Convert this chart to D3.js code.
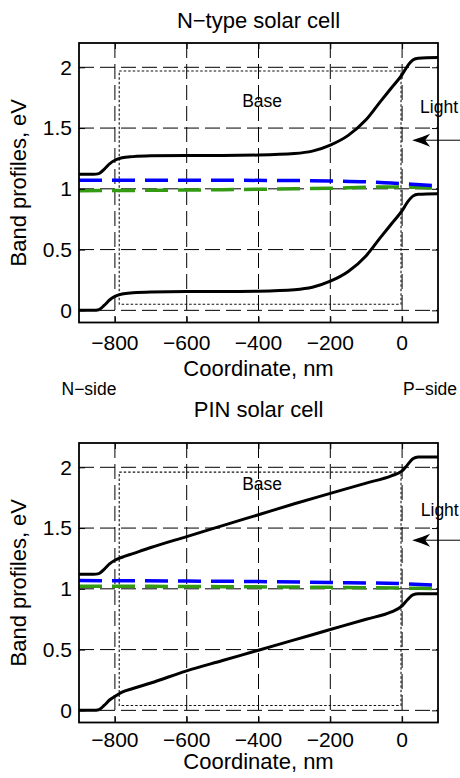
<!DOCTYPE html>
<html>
<head>
<meta charset="utf-8">
<script src="https://cdn.jsdelivr.net/npm/d3@7"></script>
<style>
  body { margin: 0; background: #fff; }
  text { font-family: "Liberation Sans", Arial, Helvetica, sans-serif; fill: #000; }
</style>
</head>
<body>
<div id="chart"></div>
<script>
// axis ticks
var xTicks = [-800, -600, -400, -200, 0];
var yTicks = [0, 0.5, 1, 1.5, 2];
var titles = ["N\u2212type solar cell", "PIN solar cell"];

// N-type cell: [coordinate nm, energy eV]
var nCond = [[-900,1.12],[-860,1.12],[-845,1.125],[-830,1.16],[-815,1.205],[-800,1.235],[-780,1.255],[-750,1.265],[-700,1.272],
  [-600,1.275],[-500,1.275],[-400,1.278],[-300,1.29],[-250,1.31],[-200,1.36],[-150,1.44],[-100,1.57],[-60,1.72],
  [-30,1.83],[0,1.94],[15,2.01],[30,2.06],[45,2.075],[100,2.08]];
var nVal = [[-900,0],[-860,0],[-845,0.005],[-830,0.04],[-815,0.085],[-800,0.115],[-780,0.135],[-750,0.145],[-700,0.152],
  [-600,0.155],[-500,0.155],[-400,0.158],[-300,0.17],[-250,0.19],[-200,0.24],[-150,0.32],[-100,0.45],[-60,0.6],
  [-30,0.71],[0,0.82],[15,0.89],[30,0.94],[45,0.955],[100,0.96]];
var nFermiE = [[-900,1.07],[-500,1.07],[-300,1.068],[-200,1.065],[-100,1.058],[-50,1.05],[0,1.043],[50,1.033],[100,1.025]];
var nFermiH = [[-900,0.985],[-700,0.988],[-500,0.993],[-300,1.0],[-200,1.005],[-100,1.013],[-50,1.016],[0,1.015],[50,1.01],[100,1.005]];

// PIN cell
var pCond = [[-900,1.12],[-860,1.12],[-845,1.125],[-830,1.16],[-815,1.205],[-800,1.235],[-780,1.26],[-750,1.29],[-700,1.34],
  [-600,1.43],[-500,1.52],[-400,1.61],[-300,1.7],[-200,1.785],[-100,1.87],[-30,1.93],[0,1.97],[15,2.02],[30,2.07],[45,2.085],[100,2.085]];
var pVal = [[-900,0],[-860,0],[-845,0.005],[-830,0.04],[-815,0.085],[-800,0.115],[-780,0.15],[-750,0.18],[-700,0.225],
  [-600,0.325],[-500,0.41],[-400,0.495],[-300,0.58],[-200,0.665],[-100,0.75],[-30,0.81],[0,0.86],[15,0.91],[30,0.95],[45,0.96],[100,0.96]];
var pFermiE = [[-900,1.068],[-600,1.064],[-400,1.06],[-200,1.052],[0,1.042],[100,1.03]];
var pFermiH = [[-900,1.022],[-500,1.018],[-200,1.012],[0,1.006],[100,1.003]];

// base region box [x0, x1, y0, y1]
var nBase = [-788, -3, 0.05, 1.97];
var pBase = [-788, -3, 0.04, 1.96];

var W = 460, H = 778;
var m = {left: 79, width: 359, height: 279.5};

var svg = d3.select("#chart").append("svg")
    .attr("width", W).attr("height", H);

var x = d3.scaleLinear().domain([-900, 100]).range([0, m.width]);
var y = d3.scaleLinear().domain([-0.1, 2.2]).range([m.height, 0]);

var line = d3.line()
    .x(function(d) { return x(d[0]); })
    .y(function(d) { return y(d[1]); })
    .curve(d3.curveMonotoneX);

function label(g, px, py, size, anchor, str, dy) {
    return g.append("text")
        .attr("x", px).attr("y", py)
        .attr("text-anchor", anchor).attr("dy", dy || 0)
        .style("font-size", size + "px").text(str);
}

function fmt(d) { return d < 0 ? "\u2212" + (-d) : String(d); }

function drawPanel(idx, top, cfg) {
    var g = svg.append("g").attr("transform", "translate(" + m.left + "," + top + ")");

    g.append("clipPath").attr("id", "clip" + idx)
        .append("rect").attr("width", m.width).attr("height", m.height);

    // dashed grid
    g.selectAll(".vg").data(xTicks).enter().append("line")
        .attr("x1", function(d) { return x(d); }).attr("x2", function(d) { return x(d); })
        .attr("y1", 0).attr("y2", m.height)
        .style("stroke", "#000").style("stroke-width", 1).style("stroke-dasharray", "15,6");
    g.selectAll(".hg").data(yTicks).enter().append("line")
        .attr("y1", function(d) { return y(d); }).attr("y2", function(d) { return y(d); })
        .attr("x1", 0).attr("x2", m.width)
        .style("stroke", "#000").style("stroke-width", 1).style("stroke-dasharray", "15,6");

    // base region (dotted)
    var b = cfg.base;
    g.append("rect")
        .attr("x", x(b[0])).attr("y", y(b[3]))
        .attr("width", x(b[1]) - x(b[0])).attr("height", y(b[2]) - y(b[3]))
        .style("fill", "none").style("stroke", "#111").style("stroke-width", 1.1)
        .style("stroke-dasharray", "2.5,2");

    var plot = g.append("g").attr("clip-path", "url(#clip" + idx + ")");
    plot.append("path").datum(cfg.fermiH).attr("d", line)
        .style("fill", "none").style("stroke", "#339a12").style("stroke-width", 3.5)
        .style("stroke-dasharray", "23,10");
    plot.append("path").datum(cfg.fermiE).attr("d", line)
        .style("fill", "none").style("stroke", "#0000ff").style("stroke-width", 3.5)
        .style("stroke-dasharray", "23,10");
    [cfg.cond, cfg.val].forEach(function(s) {
        plot.append("path").datum(s).attr("d", line)
            .style("fill", "none").style("stroke", "#000").style("stroke-width", 3);
    });

    // inward ticks on all sides
    var tick = 6;
    g.append("g").attr("transform", "translate(0," + m.height + ")")
        .call(d3.axisBottom(x).tickValues(xTicks).tickSizeInner(-tick).tickSizeOuter(0).tickFormat(""));
    g.append("g")
        .call(d3.axisLeft(y).tickValues(yTicks).tickSizeInner(-tick).tickSizeOuter(0).tickFormat(""));
    g.append("g")
        .call(d3.axisTop(x).tickValues(xTicks).tickSizeInner(-tick).tickSizeOuter(0).tickFormat(""));
    g.append("g").attr("transform", "translate(" + m.width + ",0)")
        .call(d3.axisRight(y).tickValues(yTicks).tickSizeInner(-tick).tickSizeOuter(0).tickFormat(""));
    g.selectAll(".domain").remove();
    g.selectAll(".tick line").style("stroke", "#000").style("stroke-width", 1);

    // tick labels
    xTicks.forEach(function(t) {
        label(g, x(t), cfg.tickY - top, 21, "middle", fmt(t));
    });
    yTicks.forEach(function(t) {
        label(g, -7, y(t), 21, "end", fmt(t), "0.35em");
    });

    g.append("rect").attr("width", m.width).attr("height", m.height)
        .style("fill", "none").style("stroke", "#000").style("stroke-width", 1.8);

    // labels
    label(g, m.width / 2, cfg.titleY - top, 22, "middle", cfg.title);
    label(g, m.width / 2, cfg.xlabelY - top, 22, "middle", "Coordinate, nm");
    g.append("text").attr("transform", "translate(" + (26 - m.left) + "," + (m.height / 2) + ") rotate(-90)")
        .attr("text-anchor", "middle").style("font-size", "22px").text("Band profiles, eV");

    label(g, x(-390), y(cfg.baseLabel), 17.5, "middle", "Base");

    // light arrow
    label(g, x(cfg.light[0]), y(cfg.light[1]), 17.5, "start", "Light");
    var tx = x(28), ty = y(1.4);
    g.append("line").attr("x1", tx + 12).attr("x2", W - m.left).attr("y1", ty).attr("y2", ty)
        .style("stroke", "#000").style("stroke-width", 1);
    g.append("path")
        .attr("d", "M" + tx + "," + ty + " Q" + (tx + 10) + "," + (ty - 3) + " " + (tx + 18) + "," + (ty - 6.5) +
            " L" + (tx + 13) + "," + ty + " L" + (tx + 18) + "," + (ty + 6.5) +
            " Q" + (tx + 10) + "," + (ty + 3) + " " + tx + "," + ty + "Z")
        .style("fill", "#000");
    return g;
}

drawPanel(0, 43, {title: titles[0], titleY: 28, tickY: 350, xlabelY: 376, base: nBase, baseLabel: 1.67, light: [50, 1.623],
    cond: nCond, val: nVal, fermiE: nFermiE, fermiH: nFermiH});
drawPanel(1, 443, {title: titles[1], titleY: 417, tickY: 747, xlabelY: 769, base: pBase, baseLabel: 1.81, light: [52, 1.597],
    cond: pCond, val: pVal, fermiE: pFermiE, fermiH: pFermiH});

label(svg, 89, 395, 17.5, "middle", "N\u2212side");
label(svg, 430, 395, 17.5, "middle", "P\u2212side");
</script>
</body>
</html>
